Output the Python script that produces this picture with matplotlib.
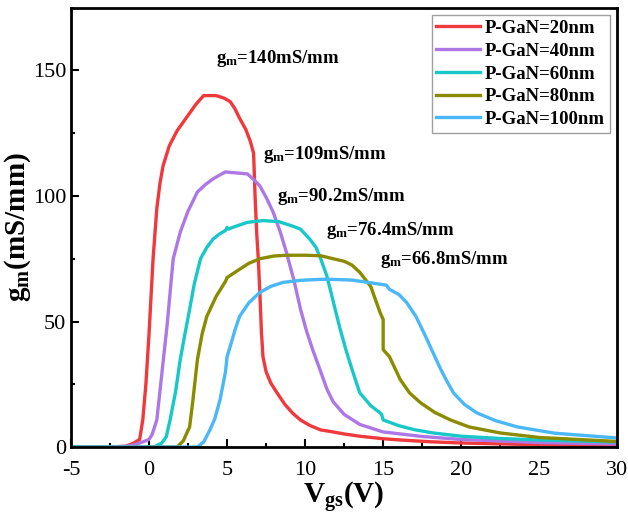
import matplotlib.pyplot as plt
import numpy as np

plt.rcParams['font.family'] = 'Liberation Serif'
plt.rcParams['mathtext.fontset'] = 'custom'
plt.rcParams['mathtext.rm'] = 'Liberation Serif'
plt.rcParams['mathtext.bf'] = 'Liberation Serif:bold'
plt.rcParams['mathtext.it'] = 'Liberation Serif:italic'
plt.rcParams['axes.unicode_minus'] = False

# P-GaN = 20 nm
vgs_20 = [-5, -2.5, -1.5, -1.0, -0.6, -0.4, -0.2, 0.0, 0.26, 0.5, 0.7, 0.9, 1.3, 1.8, 2.2, 2.6,
          3.0, 3.5, 4.3, 4.8, 5.2, 5.5, 5.8, 6.2, 6.5, 6.7, 6.8, 6.9, 7.0, 7.1, 7.2, 7.3, 7.5,
          7.8, 8.2, 8.7, 9.2, 9.7, 10.3, 11.0, 11.8, 12.5, 13.5, 15.0, 16.1, 18, 20, 25, 30]
gm_20 = [0, 0, 0.3, 1.5, 3.0, 10.8, 25, 45, 75, 95, 105, 112, 120, 126, 129.5, 133,
         136.5, 140, 140, 139, 137.6, 134.8, 131, 126.5, 121.6, 117, 99, 85, 75, 61.6, 46, 36, 30,
         25.5, 21.6, 17, 13.5, 10.8, 8.6, 6.8, 6.0, 5.2, 4.3, 3.3, 2.8, 2.1, 1.6, 0.9, 0.5]

# P-GaN = 40 nm
vgs_40 = [-5, -2.5, -1.5, -1.0, -0.5, 0.0, 0.2, 0.5, 0.8, 1.15, 1.55, 2.0, 2.5, 3.1, 3.6, 4.1, 4.6,
          4.9, 5.2, 6.3, 6.7, 7.1, 7.5, 7.95, 8.4, 8.8, 9.3, 9.7, 10.1, 10.5, 11.0, 11.4, 11.8,
          12.5, 13.5, 15.0, 17.5, 20, 25, 30]
gm_40 = [0, 0, 0.3, 0.8, 1.8, 3.0, 5.0, 10.8, 28, 48, 75, 85.6, 94, 101.6, 104.5, 106.8, 108.6,
         109.6, 109.4, 108.8, 106.6, 104, 99.5, 93.6, 85.8, 77.6, 66, 55, 46, 38.5, 30, 23, 18,
         13, 9, 6, 4.2, 3, 1.8, 1.2]

# P-GaN = 60 nm
vgs_60 = [-5, 0.3, 0.8, 1.1, 1.35, 1.7, 2.0, 2.3, 2.6, 2.9, 3.3, 3.7, 4.1, 4.5, 4.9, 5.0, 5.1, 5.4,
          6.3, 7.3, 8.3, 9.2, 9.7, 10.3, 10.7, 11.0, 11.4, 11.8, 12.2, 12.6, 13.0, 13.5, 14.2, 14.8,
          14.9, 15.0, 16.0, 17.0, 18.2, 20, 22.5, 25, 30]
gm_60 = [0, 0, 1.5, 4, 10.8, 22, 34.8, 45, 54.8, 65, 75, 79.5, 82.8, 84.8, 86.3, 87.5, 86.8, 87.6,
         89.5, 90.2, 89.8, 88, 86.8, 82.8, 79.5, 75, 68, 58, 48, 39, 31, 21.6, 16.5, 13.6,
         13.0, 10.8, 8.5, 6.9, 5.6, 4.3, 3.4, 2.8, 2.0]

# P-GaN = 80 nm
vgs_80 = [-5, 1.8, 2.2, 2.6, 2.8, 3.1, 3.4, 3.7, 4.3, 4.9, 5.0, 5.8, 6.4, 7.1, 8.0, 8.8, 10.0, 11.0,
          11.8, 12.5, 13.0, 13.5, 14.2, 14.8, 15.0, 15.0, 15.4, 16.1, 16.7, 17.4, 18.3, 19.3,
          20.5, 22.5, 25, 30]
gm_80 = [0, 0, 2.5, 8, 18, 34.8, 45, 52, 60, 66, 67.5, 70.8, 73.2, 75, 76.1, 76.4, 76.4, 76.2,
         75, 74, 72.5, 69.6, 64, 53.6, 50.8, 38.8, 36, 26.8, 21.5, 17.6, 13.8, 10.8,
         8, 5.6, 3.8, 2.2]

# P-GaN = 100 nm
vgs_100 = [-5, 3.1, 3.5, 3.9, 4.2, 4.55, 4.9, 5.0, 5.2, 5.5, 5.8, 6.4, 7.1, 7.8, 8.6, 9.7, 11.0,
           11.6, 13.0, 14.0, 15.2, 15.4, 16.0, 16.5, 17.1, 17.6, 18.2, 18.7, 19.1, 19.5, 20.2,
           21.0, 22.2, 23.6, 26.0, 30]
gm_100 = [0, 0, 2.0, 6.8, 11, 18.8, 30, 36, 40, 46.5, 52, 57.5, 61.6, 64, 65.6, 66.4, 66.8,
          66.8, 66.5, 65.6, 64.5, 62.8, 60.8, 57.6, 52, 45.6, 37.5, 30.8, 26, 21.6, 17,
          13.6, 10.5, 8, 5.5, 3.6]

labels = ['P-GaN=20nm', 'P-GaN=40nm', 'P-GaN=60nm', 'P-GaN=80nm', 'P-GaN=100nm']
colors = ['#f0393c', '#ad78e6', '#18c8c8', '#8b8b00', '#4ab8f8']
peaks = ['140', '109', '90.2', '76.4', '66.8']
peak_pos = [(4.3, 150.5), (7.3, 112.5), (8.2, 95.5), (11.35, 82), (14.8, 70.5)]

series = [(vgs_20, gm_20), (vgs_40, gm_40), (vgs_60, gm_60), (vgs_80, gm_80), (vgs_100, gm_100)]

fig, ax = plt.subplots(figsize=(6.28, 5.15), dpi=100)
fig.subplots_adjust(left=0.113, right=0.983, top=0.985, bottom=0.132)

for (x, y), lab, c in zip(series, labels, colors):
    ax.plot(x, y, color=c, lw=2.4, label=lab)

for (px, py), p in zip(peak_pos, peaks):
    ax.text(px, py, r'$\mathbf{g}_{\mathbf{m}}$=' + p + 'mS/mm', fontsize=13.5, fontweight='bold',
            va='bottom', ha='left')

ax.set_xlim(-5, 30)
ax.set_ylim(0, 175)
ax.set_xticks(np.arange(-5, 31, 5))
ax.set_xticks(np.arange(-2.5, 30, 5), minor=True)
ax.set_yticks([0, 50, 100, 150])
ax.set_yticks([25, 75, 125], minor=True)
ax.tick_params(direction='in', which='major', length=6, width=1.5, labelsize=16)
ax.tick_params(axis='x', which='major', pad=10)
ax.tick_params(direction='in', which='minor', length=3, width=1.5)
for sp in ax.spines.values():
    sp.set_linewidth(2)

ax.set_xlabel(r'$\mathbf{V}_{\mathbf{gs}}$(V)', fontsize=21, fontweight='bold', labelpad=0)
ax.set_ylabel(r'$\mathbf{g}_{\mathbf{m}}$(mS/mm)', fontsize=21, fontweight='bold', labelpad=0)

leg = ax.legend(loc='upper right', prop={'weight': 'bold', 'size': 13.5},
                fancybox=False, edgecolor='#888888', handlelength=2.3, borderpad=0.25,
                labelspacing=0.3, handletextpad=0.3, borderaxespad=0.4)
leg.get_frame().set_linewidth(1)

fig.savefig('out.png')
